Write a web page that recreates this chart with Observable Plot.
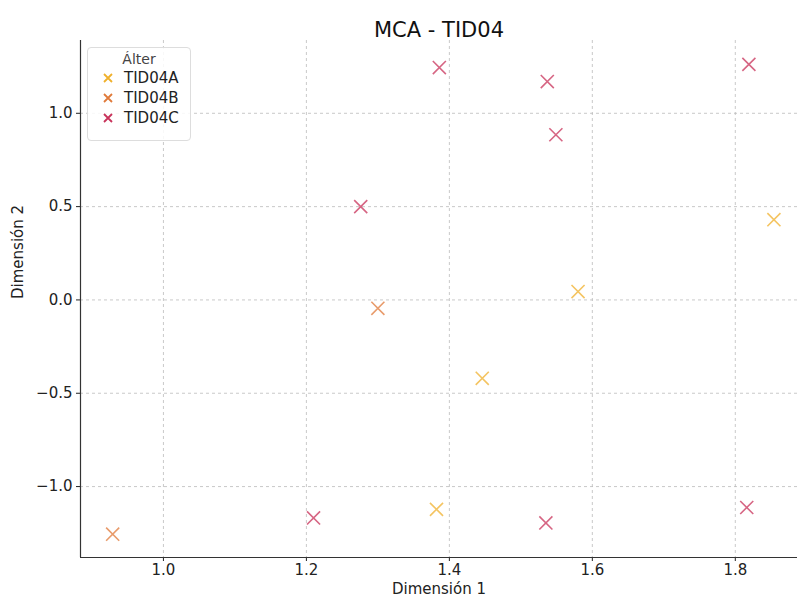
<!DOCTYPE html>
<html>
<head>
<meta charset="utf-8">
<script src="https://cdn.jsdelivr.net/npm/d3@7"></script>
<script src="https://cdn.jsdelivr.net/npm/@observablehq/plot@0.6"></script>
<style>
  body { margin: 0; background: #fff; font-family: "DejaVu Sans", sans-serif; }
  #wrap { position: relative; width: 799px; height: 599px; }
  #legend { position: absolute; left: 87px; top: 47px; width: 104px; height: 94px;
    border: 1px solid #ddd; border-radius: 4px; background: rgba(255,255,255,0.85);
    font-size: 15px; color: #222; box-sizing: border-box; }
  #legend .ttl { text-align: center; margin-top: 3px; margin-bottom: 1px; color: #444; font-size: 14px; }
  #legend .row { display: flex; align-items: center; height: 20px; padding-left: 14px; }
  #legend .row svg { margin-right: 10px; }
</style>
</head>
<body>
<div id="wrap"></div>
<script>
const categories = ["TID04A", "TID04B", "TID04C"];
const colors = ["#f0b02c", "#e07a3a", "#c8325a"];
const pointGroup = ["TID04B","TID04C","TID04C","TID04B","TID04A","TID04C","TID04A","TID04C","TID04C","TID04C","TID04A","TID04C","TID04C","TID04A"];
const dim1 = [0.929, 1.210, 1.276, 1.300, 1.382, 1.386, 1.446, 1.537, 1.535, 1.549, 1.580, 1.819, 1.816, 1.854];
const dim2 = [-1.255, -1.168, 0.500, -0.045, -1.122, 1.245, -0.420, 1.170, -1.195, 0.885, 0.045, 1.262, -1.112, 0.430];
const xTicks = [1.0, 1.2, 1.4, 1.6, 1.8];
const yTicks = [-1.0, -0.5, 0.0, 0.5, 1.0];
const titleText = "MCA - TID04";
const legendTitle = "Álter";

const data = dim1.map((x, i) => ({x, y: dim2[i], g: pointGroup[i]}));
const xDom = [0.884, 1.887];
const yDom = [-1.38, 1.39];
const fmtY = d => d3.format(".1f")(d).replace("-", "\u2212");

const chart = Plot.plot({
  width: 799, height: 599,
  marginLeft: 80, marginRight: 2, marginTop: 40, marginBottom: 42,
  style: {fontFamily: "DejaVu Sans, sans-serif", fontSize: "15px", color: "#222", background: "#fff"},
  x: {domain: xDom, ticks: xTicks, tickFormat: d3.format(".1f"), label: null},
  y: {domain: yDom, ticks: yTicks, tickFormat: fmtY, label: null},
  color: {domain: categories, range: colors},
  marks: [
    Plot.gridX(xTicks, {stroke: "#bbb", strokeOpacity: 0.8, strokeDasharray: "3,3"}),
    Plot.gridY(yTicks, {stroke: "#bbb", strokeOpacity: 0.8, strokeDasharray: "3,3"}),
    Plot.axisX(xTicks, {tickSize: 4, tickPadding: 3, fontSize: 15, tickFormat: d3.format(".1f")}),
    Plot.axisY(yTicks, {tickSize: 4, tickPadding: 4, fontSize: 15, tickFormat: fmtY}),
    Plot.ruleX([xDom[0]], {stroke: "#333", strokeWidth: 1.2}),
    Plot.ruleY([yDom[0]], {stroke: "#333", strokeWidth: 1.2}),
    Plot.dot(data, {x: "x", y: "y", stroke: "g", symbol: "times", r: 6, strokeWidth: 1.6, strokeOpacity: 0.75}),
    Plot.text([titleText], {frameAnchor: "top", dy: -18, fontSize: 21, fill: "#111"}),
    Plot.text(["Dimensión 1"], {frameAnchor: "bottom", dy: 32, lineAnchor: "middle", fontSize: 15, fill: "#222"}),
    Plot.text(["Dimensión 2"], {frameAnchor: "left", dx: -62, rotate: -90, fontSize: 15, fill: "#222"})
  ]
});
const wrap = document.getElementById("wrap");
wrap.appendChild(chart);

const lg = document.createElement("div");
lg.id = "legend";
let html = `<div class="ttl">${legendTitle}</div>`;
categories.forEach((c, i) => {
  html += `<div class="row"><svg width="12" height="12"><path d="M2,2L10,10M10,2L2,10" stroke="${colors[i]}" stroke-width="1.8"/></svg><span>${c}</span></div>`;
});
lg.innerHTML = html;
wrap.appendChild(lg);
</script>
</body>
</html>
